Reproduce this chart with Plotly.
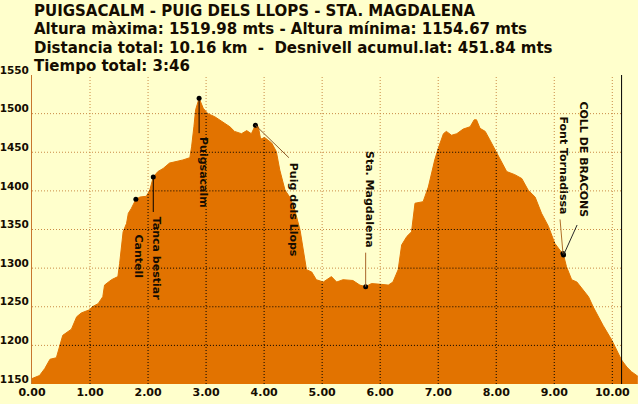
import numpy as np
import plotly.graph_objects as go

# ---------------- data ----------------
km = [0.00, 0.13, 0.22, 0.31, 0.42, 0.47, 0.53, 0.68, 0.77, 0.85, 0.99, 1.04, 1.14, 1.22, 1.25,
      1.37, 1.48, 1.51, 1.54, 1.57, 1.63, 1.66, 1.71, 1.79, 1.86, 1.97, 2.03, 2.09, 2.17, 2.26,
      2.37, 2.49, 2.60, 2.72, 2.75, 2.79, 2.82, 2.86, 2.88, 2.95, 3.03, 3.15, 3.27, 3.41, 3.49,
      3.61, 3.70, 3.78, 3.85, 3.90, 3.94, 4.01, 4.13, 4.21, 4.27, 4.36, 4.44, 4.53, 4.62, 4.70,
      4.73, 4.82, 4.90, 5.02, 5.16, 5.25, 5.36, 5.53, 5.65, 5.75, 5.85, 6.02, 6.14, 6.22, 6.31,
      6.37, 6.46, 6.54, 6.60, 6.74, 6.83, 6.94, 7.00, 7.09, 7.14, 7.23, 7.32, 7.43, 7.55, 7.62,
      7.66, 7.72, 7.81, 7.89, 7.98, 8.09, 8.18, 8.32, 8.44, 8.55, 8.67, 8.78, 8.90, 9.01, 9.10,
      9.16, 9.21, 9.30, 9.39, 9.50, 9.59, 9.67, 9.76, 9.84, 9.99, 10.08, 10.16, 10.25, 10.33, 10.44]
elev = [1157, 1161, 1170, 1182, 1184, 1198, 1213, 1221, 1237, 1242, 1246, 1250, 1254, 1263, 1278,
        1285, 1289, 1306, 1332, 1347, 1358, 1371, 1377, 1389, 1392, 1393, 1401, 1418, 1425, 1429,
        1436, 1438, 1440, 1443, 1457, 1483, 1505, 1515, 1520, 1507, 1500, 1496, 1490, 1483, 1477,
        1474, 1478, 1474, 1485, 1483, 1467, 1469, 1462, 1451, 1427, 1401, 1392, 1375, 1349, 1315,
        1298, 1295, 1285, 1282, 1289, 1282, 1285, 1284, 1278, 1276, 1280, 1279, 1278, 1282, 1298,
        1330, 1341, 1347, 1384, 1386, 1405, 1440, 1455, 1474, 1477, 1472, 1474, 1480, 1483, 1492,
        1492, 1481, 1477, 1466, 1453, 1436, 1425, 1421, 1416, 1401, 1392, 1371, 1354, 1332, 1323,
        1317, 1302, 1285, 1282, 1272, 1263, 1250, 1237, 1226, 1207, 1192, 1181, 1172, 1166, 1160]

poi_names = ["Cantell", "Tanca bestiar", "Puigsacalm", "Puig dels Llops",
             "Sta. Magdalena", "Font Tornadissa", "COLL DE BRACONS"]
poi_km = [1.79, 2.09, 2.88, 3.85, 5.75, 9.15, 9.16]
poi_elev = [1389, 1418, 1520, 1485, 1276, 1319, 1317]

title_lines = [
    "PUIGSACALM - PUIG DELS LLOPS - STA. MAGDALENA",
    "Altura màxima: 1519.98 mts - Altura mínima: 1154.67 mts",
    "Distancia total: 10.16 km \u00a0-\u00a0 Desnivell acumul.lat: 451.84 mts",
    "Tiempo total: 3:46",
]

x_ticks = list(range(0, 11))
x_ticktext = [f"{v:.2f}" for v in x_ticks]
y_ticks = list(range(1150, 1551, 50))
y_ticktext = [str(v) for v in y_ticks]
total_km = 10.16

# ---------------- styles ----------------
BG = "#FFFFCC"
ORANGE = "#E27300"
GRID_LIGHT = "#C98A45"
AXIS_COL = "#C8762E"
TXT = "#150c00"
FONT = "DejaVu Sans"

# (text dx, text dy, line tail dx, line tail dy, line colour) in pixels
poi_style = [
    (3, 57, None, None, None),
    (3, 81, 0, 36, "#000000"),
    (5, 74, 0, 36, "#000000"),
    (38, 85, 34, 33, "#8a5a2a"),
    (4, -87, 0, -35, "#a8642a"),
    (1, -88, -3, -35, "#b0702a"),
    (19, -96, 14, -31, "#2a2a2a"),
]
title_centers_px = [10.5, 29.5, 48, 66.5]   # vertical centres of the title lines

M_L, M_R, M_T, M_B = 32, 0, 75, 20
W, H = 638, 404
plot_h = H - M_T - M_B

x_max = 10.443
y_min, y_max = y_ticks[0], y_ticks[-1]

fig = go.Figure()

# light (background-coloured area) dotted grid
gx, gy = [], []
for k in x_ticks[1:]:
    gx += [k, k, None]
    gy += [y_min, y_max, None]
for lv in y_ticks[1:-1]:
    gx += [0, total_km, None]
    gy += [lv, lv, None]
fig.add_trace(go.Scatter(x=gx, y=gy, mode="lines", hoverinfo="skip",
                         line=dict(color=GRID_LIGHT, width=1, dash="1px,2px")))

# profile
fig.add_trace(go.Scatter(x=km, y=elev, mode="lines", fill="tozeroy",
                         fillcolor=ORANGE, line=dict(color=ORANGE, width=1),
                         hoverinfo="skip"))

# dark grid segments over the filled area
kmA = np.array(km, dtype=float)
elA = np.array(elev, dtype=float)
bx, by = [], []
for k in x_ticks[1:]:
    top = float(np.interp(k, kmA, elA))
    bx += [k, k, None]
    by += [y_min, top, None]
xs = np.linspace(0, total_km, 3000)
ys = np.interp(xs, kmA, elA)
for lv in y_ticks[1:-1]:
    m = ys > lv
    i = 0
    n = len(xs)
    while i < n:
        if m[i]:
            j = i
            while j + 1 < n and m[j + 1]:
                j += 1
            bx += [float(xs[i]), float(xs[j]), None]
            by += [lv, lv, None]
            i = j + 1
        else:
            i += 1
fig.add_trace(go.Scatter(x=bx, y=by, mode="lines", hoverinfo="skip",
                         line=dict(color="#000000", width=1, dash="1px,2px")))

# end-of-track line
fig.add_trace(go.Scatter(x=[total_km, total_km], y=[y_min, y_max], mode="lines",
                         hoverinfo="skip", line=dict(color="#000000", width=1)))

# POI markers
fig.add_trace(go.Scatter(x=poi_km, y=poi_elev, mode="markers", hoverinfo="skip",
                         marker=dict(color="#000000", size=5)))

annotations = []
for name, xk, ye, st in zip(poi_names, poi_km, poi_elev, poi_style):
    tdx, tdy, ldx, ldy, lcol = st
    if ldx is not None:
        annotations.append(dict(x=xk, y=ye, xref="x", yref="y", text=" ",
                                font=dict(size=1), showarrow=True, arrowhead=0,
                                arrowwidth=1, arrowcolor=lcol, ax=ldx, ay=ldy,
                                standoff=0, borderpad=0))
    annotations.append(dict(x=xk, y=ye, xref="x", yref="y", text=name, textangle=90,
                            font=dict(family=FONT, size=11, color=TXT, weight="bold"),
                            showarrow=True, arrowcolor="rgba(0,0,0,0)", ax=tdx, ay=tdy))

for line, cy in zip(title_lines, title_centers_px):
    annotations.append(dict(x=0.0, y=1 + (M_T - cy) / plot_h, xref="paper", yref="paper",
                            xanchor="left", yanchor="middle", align="left",
                            text=line, showarrow=False,
                            font=dict(family=FONT, size=15, color=TXT, weight="bold")))

fig.update_layout(
    width=W, height=H,
    margin=dict(l=M_L, r=M_R, t=M_T, b=M_B, autoexpand=False),
    paper_bgcolor=BG, plot_bgcolor=BG,
    showlegend=False,
    annotations=annotations,
    xaxis=dict(range=[0, x_max], showgrid=False, zeroline=False, showline=False,
               automargin=False, fixedrange=True,
               tickvals=x_ticks, ticktext=x_ticktext, ticks="",
               tickfont=dict(family=FONT, size=11, color=TXT, weight="bold")),
    yaxis=dict(range=[y_min, y_max], showgrid=False, zeroline=False, showline=True,
               automargin=False, fixedrange=True,
               linecolor=AXIS_COL, linewidth=1,
               tickvals=y_ticks, ticktext=y_ticktext, ticks="", ticklabelshift=-5,
               ticklabelstandoff=0,
               tickfont=dict(family=FONT, size=10.5, color=TXT, weight="bold")),
)

fig.write_html("out.html",
               config={"displayModeBar": False, "staticPlot": True},
               post_script="document.body.style.margin='0';"
                           "document.body.style.background='" + BG + "';")
